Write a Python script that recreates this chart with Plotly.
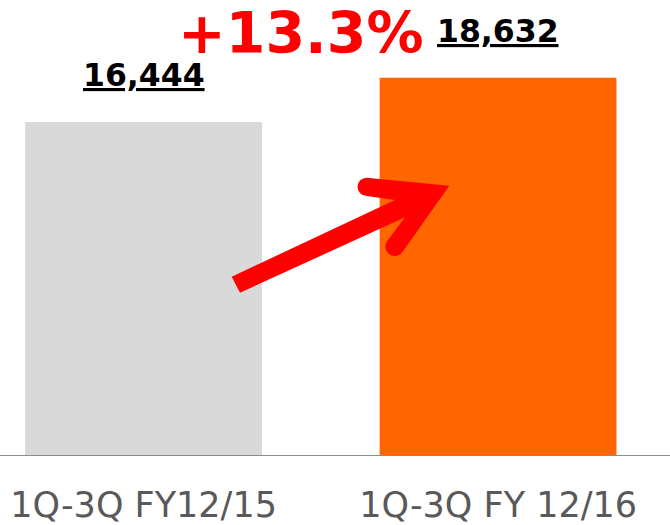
import plotly.graph_objects as go

categories = ["1Q-3Q FY12/15", "1Q-3Q FY 12/16"]
values = [16444, 18632]
bar_colors = ["#d9d9d9", "#ff6600"]
value_labels = ["16,444", "18,632"]
growth_label = "+13.3%"

W, H = 670, 525
ML, MR, MT, MB = 0, 0, 0, 70
PW, PH = W - ML - MR, H - MT - MB

def px(x):
    return x / PW

def py(y):
    return (PH - y) / PH

fig = go.Figure()
fig.add_trace(go.Bar(
    x=list(range(len(categories))),
    y=values,
    width=0.668,
    marker=dict(color=bar_colors, line=dict(width=0)),
    hoverinfo="skip",
))

for i, (v, lab) in enumerate(zip(values, value_labels)):
    fig.add_annotation(
        x=i, y=v, xref="x", yref="y",
        text="<b><u>" + lab + "</u></b>",
        showarrow=False, yanchor="bottom", yshift=27,
        font=dict(family="DejaVu Sans", size=31.5, color="#000000"),
    )

fig.add_annotation(
    x=px(301), y=py(33), xref="paper", yref="paper",
    text="<b>" + growth_label + "</b>",
    showarrow=False, xanchor="center", yanchor="middle",
    font=dict(family="DejaVu Sans", size=57, color="#ff0000"),
)

# arrow (decoration) drawn as a filled path in paper coordinates
pts = [(231.7, 276.7), (395, 200), (366.7, 196), (366.7, 177.7), (449.3, 185.7),
       (402.7, 251.7), (386.7, 241.7), (405, 217.3), (240, 292.7)]
path = "M {} {}".format(px(pts[0][0]), py(pts[0][1]))
for p in pts[1:]:
    path += " L {} {}".format(px(p[0]), py(p[1]))
path += " Z"
fig.add_shape(type="path", path=path, xref="paper", yref="paper",
              fillcolor="#ff0000", line=dict(width=0), layer="above")
for cx, cy, r in [(366.7, 186.85, 9.2), (394.7, 246.7, 9.4)]:
    fig.add_shape(type="circle", xref="paper", yref="paper",
                  x0=px(cx - r), x1=px(cx + r), y0=py(cy + r), y1=py(cy - r),
                  fillcolor="#ff0000", line=dict(width=0), layer="above")

fig.update_layout(
    width=W, height=H,
    margin=dict(l=ML, r=MR, t=MT, b=MB, autoexpand=False),
    paper_bgcolor="white", plot_bgcolor="white",
    showlegend=False,
    xaxis=dict(
        range=[-0.405, 1.485],
        tickmode="array", tickvals=list(range(len(categories))), ticktext=categories,
        showline=True, linecolor="#8c8c8c", linewidth=1,
        showgrid=False, zeroline=False, ticks="",
        tickfont=dict(family="DejaVu Sans", size=35, color="#595959"),
        ticklabelstandoff=19,
        automargin=False,
        fixedrange=True,
    ),
    yaxis=dict(range=[0, 22470], visible=False, fixedrange=True, automargin=False),
)

fig.write_html("out.html", config={"displayModeBar": False},
               post_script="document.body.style.margin='0';")
